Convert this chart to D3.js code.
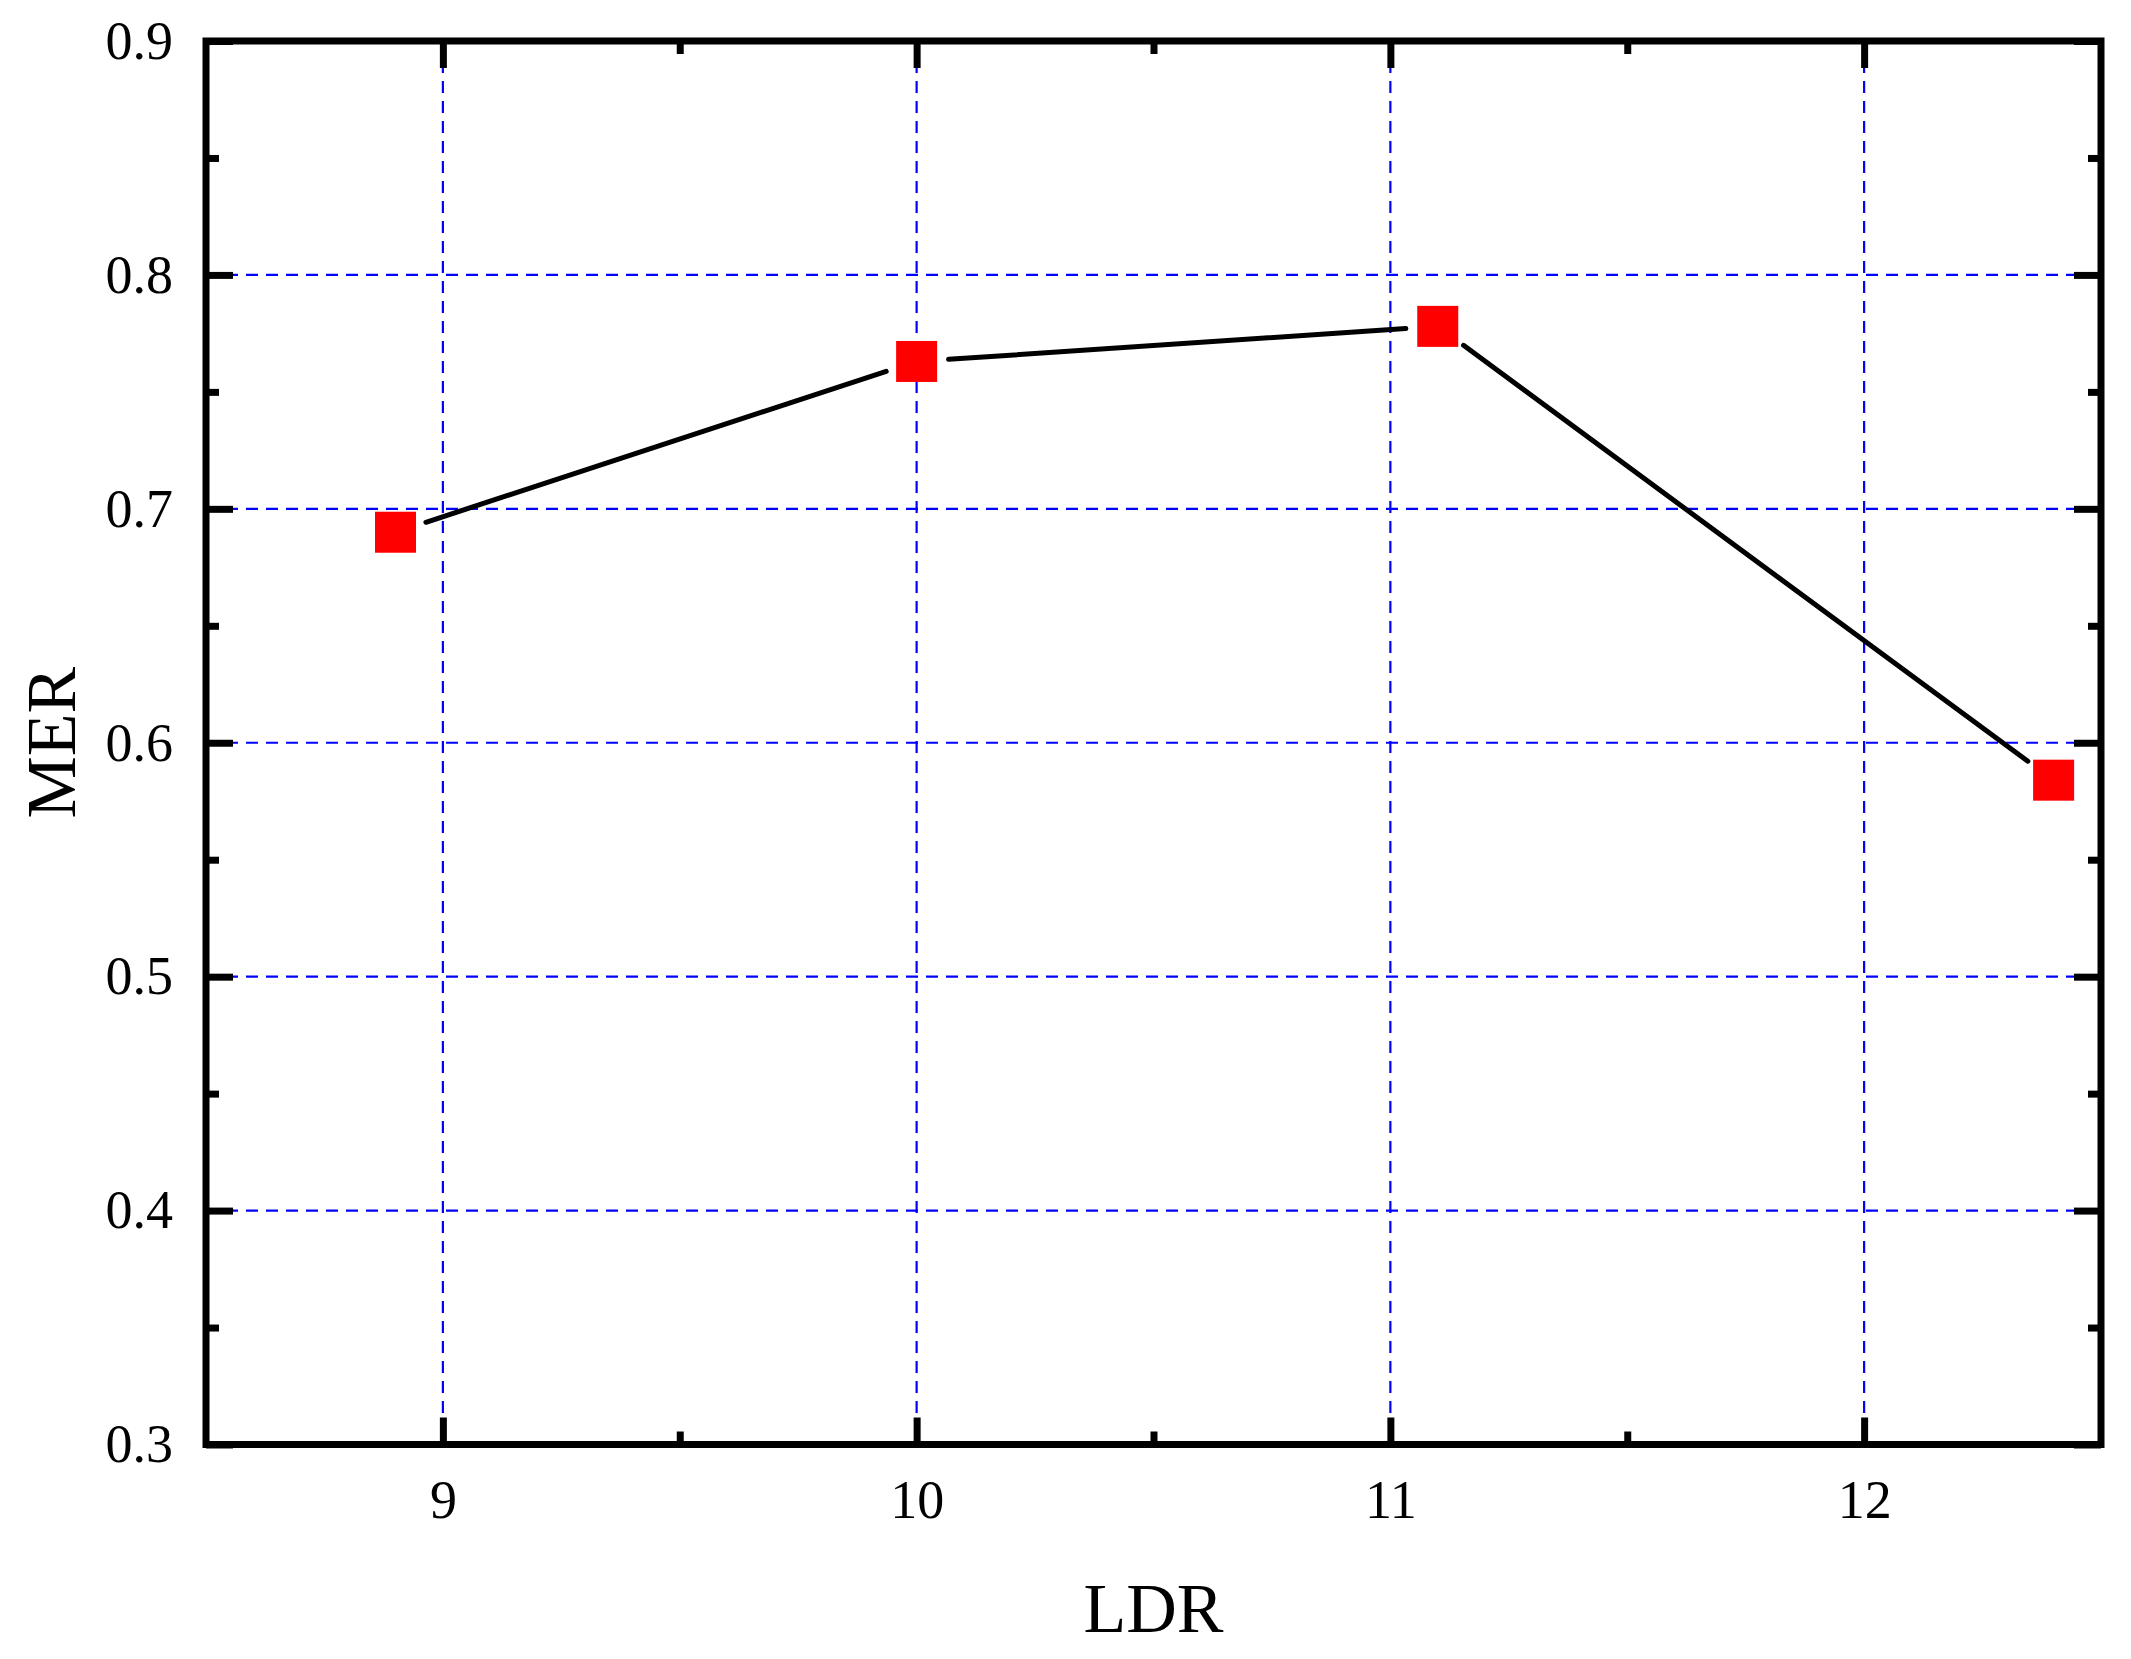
<!DOCTYPE html>
<html>
<head>
<meta charset="utf-8">
<script src="https://cdn.jsdelivr.net/npm/d3@7"></script>
<style>
  html, body { margin: 0; padding: 0; background: #fff; }
  svg { display: block; }
  text { font-family: "Liberation Serif", "Times New Roman", serif; fill: #000; }
</style>
</head>
<body>
<svg id="chart" width="2131" height="1659"></svg>
<script>
// ---- data ----
const ldr = [8.9, 10, 11.1, 12.4];
const mer = [0.690, 0.763, 0.778, 0.584];
const xTicks = [9, 10, 11, 12];
const xMinorTicks = [9.5, 10.5, 11.5];
const yTicks = [0.3, 0.4, 0.5, 0.6, 0.7, 0.8, 0.9];
const yMinorTicks = [0.35, 0.45, 0.55, 0.65, 0.75, 0.85];
const xGrid = [9, 10, 11, 12];
const yGrid = [0.4, 0.5, 0.6, 0.7, 0.8];
const xTitle = "LDR";
const yTitle = "MER";

// ---- layout ----
const W = 2131, H = 1659;
const L = 206, R = 2101, T = 41, B = 1444.5;
const svg = d3.select("#chart");
svg.append("rect").attr("width", W).attr("height", H).attr("fill", "#fff");

const x = d3.scaleLinear().domain([8.5, 12.5]).range([L, R]);
const y = d3.scaleLinear().domain([0.3, 0.9]).range([B, T]);

// grid
const grid = svg.append("g");
grid.selectAll("line.gx").data(xGrid).join("line")
  .attr("x1", d => x(d)).attr("x2", d => x(d))
  .attr("y1", T).attr("y2", B)
  .attr("stroke", "#0000ff").attr("stroke-width", 2.2).attr("stroke-dasharray", "12,8");
grid.selectAll("line.gy").data(yGrid).join("line")
  .attr("y1", d => y(d)).attr("y2", d => y(d))
  .attr("x1", L).attr("x2", R)
  .attr("stroke", "#0000ff").attr("stroke-width", 2.2).attr("stroke-dasharray", "12,8");

// line segments with gaps around markers
const pts = ldr.map((v, i) => [x(v), y(mer[i])]);
const gap = 32;
const segs = [];
for (let i = 0; i < pts.length - 1; i++) {
  const [x1, y1] = pts[i], [x2, y2] = pts[i + 1];
  const len = Math.hypot(x2 - x1, y2 - y1);
  const ux = (x2 - x1) / len, uy = (y2 - y1) / len;
  segs.push([[x1 + ux * gap, y1 + uy * gap], [x2 - ux * gap, y2 - uy * gap]]);
}
svg.append("g").selectAll("line").data(segs).join("line")
  .attr("x1", d => d[0][0]).attr("y1", d => d[0][1])
  .attr("x2", d => d[1][0]).attr("y2", d => d[1][1])
  .attr("stroke", "#000").attr("stroke-width", 5).attr("stroke-linecap", "round");

// markers
const ms = 41;
svg.append("g").selectAll("rect").data(ldr).join("rect")
  .attr("x", d => x(d) - ms / 2)
  .attr("y", (d, i) => y(mer[i]) - ms / 2)
  .attr("width", ms).attr("height", ms)
  .attr("fill", "#ff0000");

// axes
const fontSize = 54;
function styleAxis(g) {
  g.select(".domain").remove();
  g.selectAll(".tick line").attr("stroke", "#000").attr("stroke-width", 7);
  g.selectAll(".tick text").attr("font-size", fontSize)
    .attr("font-family", '"Liberation Serif", "Times New Roman", serif');
}
// bottom
svg.append("g").attr("transform", `translate(0,${B})`)
  .call(d3.axisBottom(x).tickValues(xTicks).tickFormat(d3.format("d")).tickSize(-27).tickPadding(35))
  .call(styleAxis);
svg.append("g").attr("transform", `translate(0,${B})`)
  .call(d3.axisBottom(x).tickValues(xMinorTicks).tickFormat("").tickSize(-13))
  .call(styleAxis);
// top
svg.append("g").attr("transform", `translate(0,${T})`)
  .call(d3.axisTop(x).tickValues(xTicks).tickFormat("").tickSize(-27))
  .call(styleAxis);
svg.append("g").attr("transform", `translate(0,${T})`)
  .call(d3.axisTop(x).tickValues(xMinorTicks).tickFormat("").tickSize(-13))
  .call(styleAxis);
// left
svg.append("g").attr("transform", `translate(${L},0)`)
  .call(d3.axisLeft(y).tickValues(yTicks).tickFormat(d3.format(".1f")).tickSize(-27).tickPadding(33))
  .call(styleAxis);
svg.append("g").attr("transform", `translate(${L},0)`)
  .call(d3.axisLeft(y).tickValues(yMinorTicks).tickFormat("").tickSize(-13))
  .call(styleAxis);
// right
svg.append("g").attr("transform", `translate(${R},0)`)
  .call(d3.axisRight(y).tickValues(yTicks).tickFormat("").tickSize(-27))
  .call(styleAxis);
svg.append("g").attr("transform", `translate(${R},0)`)
  .call(d3.axisRight(y).tickValues(yMinorTicks).tickFormat("").tickSize(-13))
  .call(styleAxis);

// frame
svg.append("rect").attr("x", L).attr("y", T).attr("width", R - L).attr("height", B - T)
  .attr("fill", "none").attr("stroke", "#000").attr("stroke-width", 7);

// titles
svg.append("text").attr("x", (L + R) / 2).attr("y", 1632)
  .attr("text-anchor", "middle").attr("font-size", 70).text(xTitle);
svg.append("text")
  .attr("transform", `translate(75,${(T + B) / 2}) rotate(-90)`)
  .attr("text-anchor", "middle").attr("font-size", 70).text(yTitle);
</script>
</body>
</html>
